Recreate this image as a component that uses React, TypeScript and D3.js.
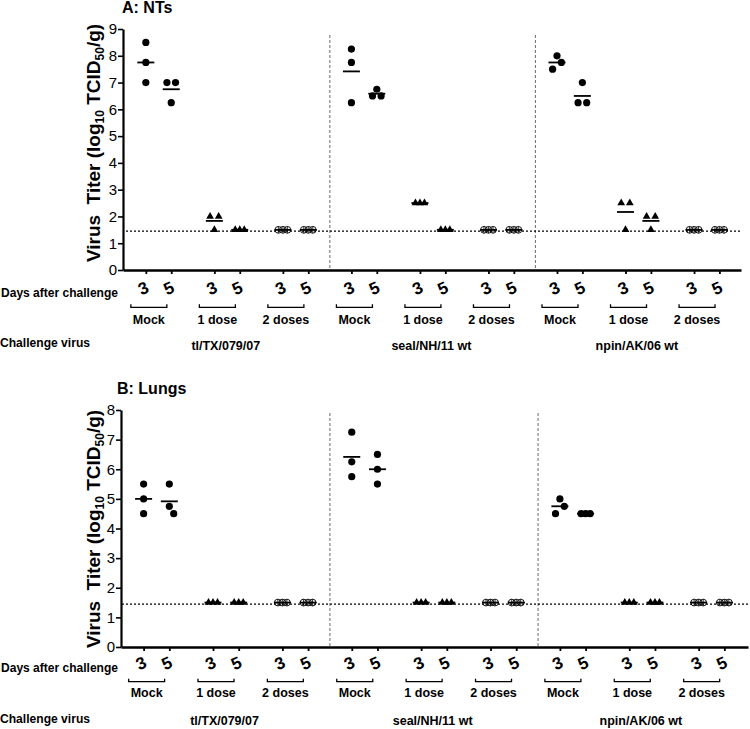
import React, { useEffect, useRef } from "react";
import * as d3 from "d3";

const PANEL_TITLES = ["A: NTs", "B: Lungs"];
const VIRUSES = ["tl/TX/079/07", "seal/NH/11 wt", "npin/AK/06 wt"];
const GROUPS = ["Mock", "1 dose", "2 doses"];
const DAYS = ["3", "5"];

// one entry per column: virus x group x day (3 animals each)
const NTS_TITERS = [
    [8.5, 7.75, 7.0], [7.0, 7.0, 6.25],
    [2.0, 2.0, 1.5], [1.5, 1.5, 1.5],
    [1.5, 1.5, 1.5], [1.5, 1.5, 1.5],
    [8.25, 7.75, 6.25], [6.75, 6.5, 6.5],
    [2.5, 2.5, 2.5], [1.5, 1.5, 1.5],
    [1.5, 1.5, 1.5], [1.5, 1.5, 1.5],
    [8.0, 7.75, 7.5], [7.0, 6.25, 6.25],
    [2.5, 2.5, 1.5], [2.0, 2.0, 1.5],
    [1.5, 1.5, 1.5], [1.5, 1.5, 1.5],
];
const LUNG_TITERS = [
    [5.5, 5.0, 4.5], [5.5, 4.75, 4.5],
    [1.5, 1.5, 1.5], [1.5, 1.5, 1.5],
    [1.5, 1.5, 1.5], [1.5, 1.5, 1.5],
    [7.25, 6.25, 5.75], [6.5, 6.0, 5.5],
    [1.5, 1.5, 1.5], [1.5, 1.5, 1.5],
    [1.5, 1.5, 1.5], [1.5, 1.5, 1.5],
    [5.0, 4.75, 4.5], [4.5, 4.5, 4.5],
    [1.5, 1.5, 1.5], [1.5, 1.5, 1.5],
    [1.5, 1.5, 1.5], [1.5, 1.5, 1.5],
];
const NTS_TICKS = [0, 1, 2, 3, 4, 5, 6, 7, 8, 9];
const LUNG_TICKS = [0, 1, 2, 3, 4, 5, 6, 7, 8];
const DETECTION_LIMIT = 1.45;

const FONT = "Arial, 'Liberation Sans', sans-serif";
const PAIR_STEP = 2.7; // x units between day-pairs

const colPos = (c: number) => Math.floor(c / 2) * PAIR_STEP + (c % 2);

// spread points that would overlap (like Prism scatter)
function swarm(values: number[], y: d3.ScaleLinear<number, number>) {
    const idx = values.map((_, i) => i).sort((a, b) => values[b] - values[a]);
    const offsets = new Array(values.length).fill(0);
    let prev: { v: number; n: number; off: number } | null = null;
    let i = 0;
    while (i < idx.length) {
        const v = values[idx[i]];
        const row = idx.filter(k => values[k] === v);
        if (row.length > 1) {
            const sp = row.length >= 3 ? 4.5 : 8.6;
            row.forEach((k, j) => (offsets[k] = (j - (row.length - 1) / 2) * sp));
            prev = { v, n: row.length, off: 0 };
        } else {
            let off = 0;
            if (prev && prev.n === 1 && Math.abs(y(prev.v) - y(v)) < 8) off = prev.off === 0 ? 4.4 : -prev.off;
            offsets[row[0]] = off;
            prev = { v, n: 1, off };
        }
        i += row.length;
    }
    return offsets;
}

function drawPanel(svg: any, p: any) {
    const x = d3.scaleLinear().domain(p.xDomain).range([p.xLeft, p.xRight]);
    const y = d3.scaleLinear().domain([0, d3.max(p.ticks) as number]).range([p.yBase, p.yTop]);
    const g = svg.append("g").attr("font-family", FONT).attr("fill", "#000");

    g.append("text")
        .attr("x", p.titleX).attr("y", p.titleY)
        .attr("font-weight", "bold").attr("font-size", 16)
        .text(p.title);

    // y axis title
    const t = g.append("text")
        .attr("transform", `translate(${p.yTitleX},${p.yTitleY}) rotate(-90)`)
        .attr("text-anchor", "middle").attr("font-weight", "bold").attr("font-size", 19);
    t.append("tspan").text("Virus\u00a0\u00a0Titer (log");
    t.append("tspan").attr("font-size", 12).attr("dy", 4).text("10");
    t.append("tspan").attr("dy", -4).text(" TCID");
    t.append("tspan").attr("font-size", 12).attr("dy", 4).text("50");
    t.append("tspan").attr("dy", -4).text("/g)");

    // separators between challenge viruses
    [1, 2].forEach(v => {
        const mid = ((3 * v - 1) * PAIR_STEP + 1 + 3 * v * PAIR_STEP) / 2;
        g.append("line")
            .attr("x1", x(mid)).attr("x2", x(mid))
            .attr("y1", p.sepTop).attr("y2", p.yBase)
            .attr("stroke", "#777").attr("stroke-width", 1.1).attr("stroke-dasharray", "3,2");
    });

    // detection limit
    g.append("line")
        .attr("x1", p.lodX0).attr("x2", p.xRight)
        .attr("y1", y(DETECTION_LIMIT)).attr("y2", y(DETECTION_LIMIT))
        .attr("stroke", "#000").attr("stroke-width", 1.3).attr("stroke-dasharray", "2,2");

    const ya = g.append("g")
        .attr("transform", `translate(${p.xLeft},0)`)
        .call(d3.axisLeft(y).tickValues(p.ticks).tickFormat(d3.format("d")).tickSize(5).tickSizeOuter(0).tickPadding(1));
    ya.select(".domain").attr("stroke-width", 2.2);
    ya.selectAll(".tick line").attr("stroke-width", 1.6);
    ya.selectAll(".tick text").attr("font-size", 15).attr("font-family", FONT).attr("fill", "#000");

    const positions = p.titers.map((_: any, c: number) => colPos(c));
    const xa = g.append("g")
        .attr("transform", `translate(0,${p.yBase})`)
        .call(d3.axisBottom(x).tickValues(positions).tickFormat(() => "").tickSize(4).tickSizeOuter(0));
    xa.select(".domain").attr("stroke-width", 2.4);
    xa.selectAll(".tick line").attr("stroke-width", 1.8);

    const tri = d3.symbol().type(d3.symbolTriangle).size(26)();

    p.titers.forEach((vals: number[], c: number) => {
        const cx = x(colPos(c));
        const gi = Math.floor(c / 2) % 3;
        const mean = d3.mean(vals) as number;
        g.append("line")
            .attr("x1", cx - 8.5).attr("x2", cx + 8.5)
            .attr("y1", y(mean)).attr("y2", y(mean))
            .attr("stroke", "#000").attr("stroke-width", 1.8);
        const offs = swarm(vals, y);
        vals.forEach((v, k) => {
            const px = cx + offs[k];
            const py = y(v);
            if (gi === 0) {
                g.append("circle").attr("cx", px).attr("cy", py).attr("r", 3.6).attr("fill", "#000");
            } else if (gi === 1) {
                g.append("path").attr("d", tri).attr("transform", `translate(${px},${py})`).attr("fill", "#000");
            } else {
                g.append("circle").attr("cx", px).attr("cy", py).attr("r", 3.4)
                    .attr("fill", "none").attr("stroke", "#000").attr("stroke-width", 0.9);
                g.append("path")
                    .attr("d", `M${px - 3.4},${py}H${px + 3.4}M${px},${py - 3.4}V${py + 3.4}`)
                    .attr("stroke", "#000").attr("stroke-width", 0.8);
            }
        });

        // day label
        const lx = cx - 2.5;
        g.append("text")
            .attr("transform", `translate(${lx},${p.dayY}) rotate(-25)`)
            .attr("text-anchor", "middle").attr("dy", 6)
            .attr("font-weight", "bold").attr("font-size", 17)
            .text(DAYS[c % 2]);
    });

    g.append("text").attr("x", 1).attr("y", p.daysTextY)
        .attr("font-weight", "bold").attr("font-size", 12.5)
        .attr("textLength", 117).attr("lengthAdjust", "spacingAndGlyphs")
        .text("Days after challenge");
    g.append("text").attr("x", 0).attr("y", p.challengeY)
        .attr("font-weight", "bold").attr("font-size", 12.5)
        .attr("textLength", 90).attr("lengthAdjust", "spacingAndGlyphs")
        .text("Challenge virus");

    // group brackets and labels
    for (let k = 0; k < 9; k++) {
        const bx = x(k * PAIR_STEP) + 3;
        g.append("path")
            .attr("d", `M${bx - 18},${p.bracketY - 3}V${p.bracketY}H${bx + 18}V${p.bracketY - 3}`)
            .attr("fill", "none").attr("stroke", "#000").attr("stroke-width", 1.3);
        g.append("text").attr("x", bx).attr("y", p.groupY)
            .attr("text-anchor", "middle").attr("font-weight", "bold").attr("font-size", 12.5)
            .text(GROUPS[k % 3]);
    }
    VIRUSES.forEach((v, i) => {
        const vx = x((3 * i + 1) * PAIR_STEP + 0.45);
        g.append("text").attr("x", vx).attr("y", p.virusY)
            .attr("text-anchor", "middle").attr("font-weight", "bold").attr("font-size", 12.5)
            .text(v);
    });
}

export default function App() {
    const svgRef = useRef<SVGSVGElement>(null);

    useEffect(() => {
        const svg = d3.select(svgRef.current);
        svg.selectAll("*").remove();

        const panels = [
            {
                title: PANEL_TITLES[0], titers: NTS_TITERS, ticks: NTS_TICKS,
                xDomain: [-0.9, 23.45], xLeft: 123, xRight: 741, yTop: 29, yBase: 270,
                titleX: 122, titleY: 13, yTitleX: 100, yTitleY: 143, sepTop: 35, lodX0: 126,
                dayY: 288, daysTextY: 296.7, bracketY: 307.3, groupY: 324, challengeY: 346.7, virusY: 350,
            },
            {
                title: PANEL_TITLES[1], titers: LUNG_TITERS, ticks: LUNG_TICKS,
                xDomain: [-0.88, 23.52], xLeft: 121, xRight: 748, yTop: 410, yBase: 647,
                titleX: 117, titleY: 394, yTitleX: 100, yTitleY: 529, sepTop: 413, lodX0: 122,
                dayY: 663, daysTextY: 671.7, bracketY: 681.7, groupY: 697, challengeY: 723.3, virusY: 724.5,
            },
        ];
        panels.forEach(p => drawPanel(svg, p));
    }, []);

    return (
        <svg ref={svgRef} width={750} height={729}
            style={{ position: "absolute", left: 0, top: 0, background: "#fff" }} />
    );
}
